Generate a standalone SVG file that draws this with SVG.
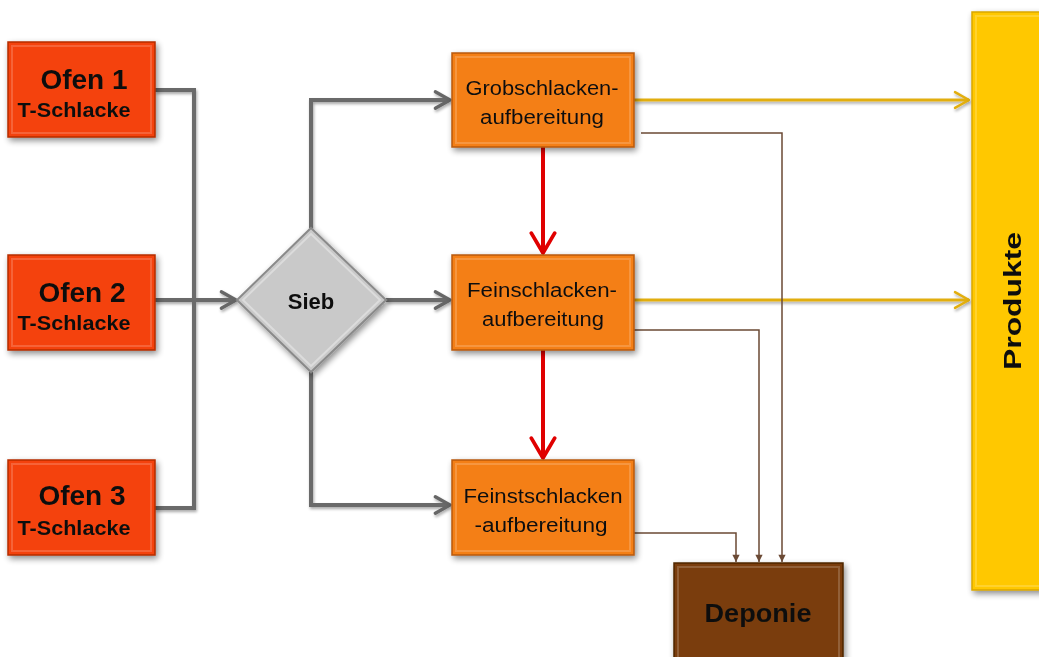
<svg xmlns="http://www.w3.org/2000/svg" width="1039" height="657" viewBox="0 0 1039 657">
<defs>
<filter id="sh" x="-20%" y="-20%" width="140%" height="140%">
<feGaussianBlur in="SourceAlpha" stdDeviation="3"/>
<feOffset dx="2" dy="3" result="b"/>
<feComponentTransfer><feFuncA type="linear" slope="0.45"/></feComponentTransfer>
<feMerge><feMergeNode/><feMergeNode in="SourceGraphic"/></feMerge>
</filter>
<filter id="lsh" x="-5%" y="-50%" width="110%" height="200%">
<feGaussianBlur in="SourceAlpha" stdDeviation="1.5"/>
<feOffset dx="1" dy="2"/>
<feComponentTransfer><feFuncA type="linear" slope="0.35"/></feComponentTransfer>
<feMerge><feMergeNode/><feMergeNode in="SourceGraphic"/></feMerge>
</filter>
<marker id="ag" viewBox="0 0 12 12" refX="10" refY="6" markerWidth="5.5" markerHeight="5.5" orient="auto" markerUnits="strokeWidth">
<path d="M2,1.5 L10,6 L2,10.5" fill="none" stroke="#666" stroke-width="1.8" stroke-linecap="round" stroke-linejoin="round"/>
</marker>
<marker id="ar" viewBox="0 0 12 12" refX="10" refY="6" markerWidth="7" markerHeight="7" orient="auto" markerUnits="strokeWidth">
<path d="M1.5,1 L10,6 L1.5,11" fill="none" stroke="#E00000" stroke-width="1.6" stroke-linecap="round" stroke-linejoin="round"/>
</marker>
<marker id="ay" viewBox="0 0 12 12" refX="10" refY="6" markerWidth="7" markerHeight="7" orient="auto" markerUnits="strokeWidth">
<path d="M2,1.5 L10,6 L2,10.5" fill="none" stroke="#E2AE10" stroke-width="1.4" stroke-linecap="round" stroke-linejoin="round"/>
</marker>
<marker id="ab" viewBox="0 0 10 10" refX="9" refY="5" markerWidth="6" markerHeight="6" orient="auto" markerUnits="strokeWidth">
<path d="M1,1 L9,5 L1,9 Z" fill="#6b4a35"/>
</marker>
<style>
.ofen{fill:#F4430C;stroke:#B52E05;stroke-width:1.5}
.proc{fill:#F47F17;stroke:#B85A0A;stroke-width:1.5}
.t{font-family:"Liberation Sans",Arial,sans-serif;fill:#111;text-anchor:middle}
.b{font-weight:bold}
.g{fill:none;stroke:#6a6a6a;stroke-width:4}
.r{fill:none;stroke:#E00000;stroke-width:4}
.y{fill:none;stroke:#E2AE10;stroke-width:3}
.br{fill:none;stroke:#6b4a35;stroke-width:1.5}
.hl{fill:none;stroke:#ffffff;stroke-opacity:0.18;stroke-width:2}
</style>
</defs>
<rect width="1039" height="657" fill="#ffffff"/>

<g id="connectors">
<g filter="url(#lsh)">
<path class="g" d="M155,90 H194 V508 H155"/>
<path class="g" d="M155,300 H236" marker-end="url(#ag)"/>
<path class="g" d="M311,228 V100 H450" marker-end="url(#ag)"/>
<path class="g" d="M386,300 H450" marker-end="url(#ag)"/>
<path class="g" d="M311,372 V505 H450" marker-end="url(#ag)"/>
<path class="y" d="M634,100 H969" marker-end="url(#ay)"/>
<path class="y" d="M634,300 H969" marker-end="url(#ay)"/>
</g>
<path class="r" d="M543,147 V253" marker-end="url(#ar)"/>
<path class="r" d="M543,350 V458" marker-end="url(#ar)"/>
<path class="br" d="M641,133 H782 V562" marker-end="url(#ab)"/>
<path class="br" d="M634,330 H759 V562" marker-end="url(#ab)"/>
<path class="br" d="M634,533 H736 V562" marker-end="url(#ab)"/>
</g>

<g id="ofen1" filter="url(#sh)">
<rect class="ofen" x="8" y="42" width="147" height="95"/>
<rect class="hl" x="12" y="46" width="139" height="87"/>
<text class="t b" x="84" y="89" font-size="28">Ofen 1</text>
<text class="t b" x="74" y="117" font-size="20" textLength="113" lengthAdjust="spacingAndGlyphs">T-Schlacke</text>
</g>
<g id="ofen2" filter="url(#sh)">
<rect class="ofen" x="8" y="255" width="147" height="95"/>
<rect class="hl" x="12" y="259" width="139" height="87"/>
<text class="t b" x="82" y="302" font-size="28">Ofen 2</text>
<text class="t b" x="74" y="330" font-size="20" textLength="113" lengthAdjust="spacingAndGlyphs">T-Schlacke</text>
</g>
<g id="ofen3" filter="url(#sh)">
<rect class="ofen" x="8" y="460" width="147" height="95"/>
<rect class="hl" x="12" y="464" width="139" height="87"/>
<text class="t b" x="82" y="505" font-size="28">Ofen 3</text>
<text class="t b" x="74" y="535" font-size="20" textLength="113" lengthAdjust="spacingAndGlyphs">T-Schlacke</text>
</g>

<g id="sieb" filter="url(#sh)">
<polygon points="311,228 386,300 311,372 237,300" fill="#C9C9C9" stroke="#8a8a8a" stroke-width="2"/>
<polygon points="311,234 380,300 311,366 243,300" fill="none" stroke="#ffffff" stroke-opacity="0.35" stroke-width="2"/>
<text class="t b" x="311" y="309" font-size="22">Sieb</text>
</g>

<g id="grob" filter="url(#sh)">
<rect class="proc" x="452" y="53" width="182" height="94"/>
<rect class="hl" x="456" y="57" width="174" height="86"/>
<text class="t" x="542" y="95" font-size="20" textLength="153" lengthAdjust="spacingAndGlyphs">Grobschlacken-</text>
<text class="t" x="542" y="124" font-size="20" textLength="124" lengthAdjust="spacingAndGlyphs">aufbereitung</text>
</g>
<g id="fein" filter="url(#sh)">
<rect class="proc" x="452" y="255" width="182" height="95"/>
<rect class="hl" x="456" y="259" width="174" height="87"/>
<text class="t" x="542" y="297" font-size="20" textLength="150" lengthAdjust="spacingAndGlyphs">Feinschlacken-</text>
<text class="t" x="543" y="326" font-size="20" textLength="122" lengthAdjust="spacingAndGlyphs">aufbereitung</text>
</g>
<g id="feinst" filter="url(#sh)">
<rect class="proc" x="452" y="460" width="182" height="95"/>
<rect class="hl" x="456" y="464" width="174" height="87"/>
<text class="t" x="543" y="503" font-size="20" textLength="159" lengthAdjust="spacingAndGlyphs">Feinstschlacken</text>
<text class="t" x="541" y="532" font-size="20" textLength="133" lengthAdjust="spacingAndGlyphs">-aufbereitung</text>
</g>

<g id="deponie" filter="url(#sh)">
<rect x="674" y="563" width="169" height="100" fill="#7A3E0B" stroke="#4f2705" stroke-width="1.5"/>
<rect class="hl" x="678" y="567" width="161" height="92"/>
<text class="t b" x="758" y="622" font-size="26" textLength="107" lengthAdjust="spacingAndGlyphs">Deponie</text>
</g>

<g id="produkte" filter="url(#sh)">
<rect x="972" y="12" width="75" height="578" fill="#FFC800" stroke="#D9A600" stroke-width="1.5"/>
<rect x="976" y="16" width="67" height="570" fill="none" stroke="#ffffff" stroke-opacity="0.18" stroke-width="2"/>
<text class="t b" transform="translate(1021,301) rotate(-90)" font-size="24" textLength="138" lengthAdjust="spacingAndGlyphs">Produkte</text>
</g>
</svg>
